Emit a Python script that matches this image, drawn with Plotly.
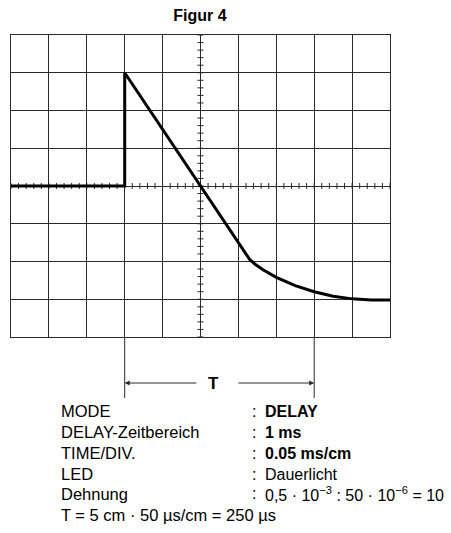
import numpy as np
import plotly.graph_objects as go

# ---- data ----
trace_t = [-5, -2, -2, -1, 0, 1, 1.3, 1.45, 1.65, 2, 2.5, 3, 3.5, 4, 4.5, 5]
trace_v = [0, 0, 3, 1.5, 0, -1.5, -1.95, -2.08, -2.22, -2.42, -2.64, -2.80, -2.92, -2.99, -3.02, -3.02]
t_start = -2
t_end = 3
title_text = "Figur 4"
labels = ["MODE", "DELAY-Zeitbereich", "TIME/DIV.", "LED", "Dehnung"]
values = ["<b>DELAY</b>", "<b>1 ms</b>", "<b>0.05 ms/cm</b>", "Dauerlicht",
          "0,5 · 10<sup>−3</sup> : 50 · 10<sup>−6</sup> = 10"]
footer = "T = 5 cm · 50 µs/cm = 250 µs"

W, H = 451, 533
L, R, T, B = 11, 390, 35, 337
FONT = "Liberation Sans, Arial, sans-serif"
GRID = "#2a2a2a"

def px_x(p):
    return (p - L) / (R - L)

def px_y(p):
    return (B - p) / (B - T)

fig = go.Figure()

# center graticule ticks
tx, ty = [], []
for y in np.arange(-4, 4.001, 0.2):
    tx += [-0.08, 0.08, None]
    ty += [y, y, None]
for x in np.arange(-5, 5.001, 0.2):
    tx += [x, x, None]
    ty += [-0.08, 0.08, None]
fig.add_trace(go.Scatter(x=tx, y=ty, mode="lines", line=dict(color=GRID, width=1),
                         hoverinfo="skip", showlegend=False))

fig.add_trace(go.Scatter(x=trace_t, y=trace_v, mode="lines",
                         line=dict(color="black", width=3), showlegend=False))

axis_common = dict(showgrid=True, gridcolor=GRID, gridwidth=1, zeroline=False,
                   showticklabels=False, ticks="", showline=True, mirror=True,
                   linecolor=GRID, linewidth=1, fixedrange=True)
fig.update_xaxes(range=[-5, 5], dtick=1, **axis_common)
fig.update_yaxes(range=[-4, 4], dtick=1, **axis_common)

# T measurement lines
arrow_y = px_y(383)
line_bot = px_y(398)
shapes = []
for xv in (t_start, t_end):
    shapes.append(dict(type="line", xref="x", yref="paper", x0=xv, x1=xv,
                       y0=0, y1=line_bot, line=dict(color=GRID, width=1)))
fig.update_layout(shapes=shapes)

T_x = 0.33
anns = []
anns.append(dict(x=t_start, y=arrow_y, xref="x", yref="paper", ax=-0.07, ay=0,
                 axref="x", ayref="pixel", text="", showarrow=True,
                 arrowhead=2, arrowsize=1, arrowwidth=1, arrowcolor=GRID))
anns.append(dict(x=t_end, y=arrow_y, xref="x", yref="paper", ax=0.96, ay=0,
                 axref="x", ayref="pixel", text="", showarrow=True,
                 arrowhead=2, arrowsize=1, arrowwidth=1, arrowcolor=GRID))
anns.append(dict(x=T_x, y=arrow_y, xref="x", yref="paper", text="<b>T</b>",
                 showarrow=False, font=dict(size=17, color="black", family=FONT),
                 xanchor="center", yanchor="middle"))

rows = [411, 432, 453, 474, 494, 515]
for i, (lab, val) in enumerate(zip(labels, values)):
    yy = px_y(rows[i])
    anns.append(dict(x=px_x(59), y=yy, xref="paper", yref="paper", text=lab,
                     showarrow=False, xanchor="left", yanchor="middle",
                     font=dict(size=16.5, color="black", family=FONT)))
    anns.append(dict(x=px_x(250), y=yy, xref="paper", yref="paper", text=":",
                     showarrow=False, xanchor="left", yanchor="middle",
                     font=dict(size=16, color="black", family=FONT)))
    anns.append(dict(x=px_x(263), y=yy, xref="paper", yref="paper", text=val,
                     showarrow=False, xanchor="left", yanchor="middle",
                     font=dict(size=16, color="black", family=FONT)))
anns.append(dict(x=px_x(59), y=px_y(rows[5]), xref="paper", yref="paper", text=footer,
                 showarrow=False, xanchor="left", yanchor="middle",
                 font=dict(size=16.5, color="black", family=FONT)))

fig.update_layout(
    annotations=anns,
    width=W, height=H,
    margin=dict(l=L, r=W - R, t=T, b=H - B, pad=0),
    paper_bgcolor="white", plot_bgcolor="white",
    title=dict(text="<b>" + title_text + "</b>", x=px_x(200), xref="paper",
               xanchor="center", y=1 - 15 / H, yanchor="middle",
               font=dict(size=16, color="black", family=FONT)),
    font=dict(family=FONT),
)

fig.write_html("out.html", config={"displayModeBar": False},
               post_script="document.body.style.margin='0';document.body.style.overflow='hidden';")
